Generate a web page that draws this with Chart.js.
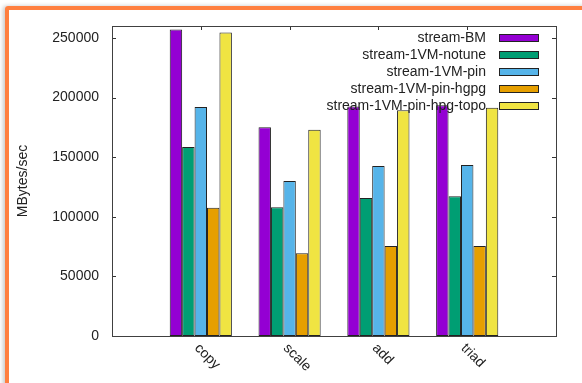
<!DOCTYPE html>
<html>
<head>
<meta charset="utf-8">
<script src="https://cdn.jsdelivr.net/npm/chart.js@4/dist/chart.umd.min.js"></script>
<style>
  body { margin: 0; background: #fff; overflow: hidden; }
  .frame {
    position: absolute; left: 5px; top: 6px; width: 620px; height: 373px;
    border: 4px solid #ff7f3f; border-top-left-radius: 3px;
    box-shadow: -2px 0 4px rgba(0,0,0,0.22);
  }
  #js--chartStream { position: absolute; left: 0; top: 0; }
</style>
</head>
<body>
<div class="frame"></div>
<canvas id="js--chartStream" width="582" height="383"></canvas>
<script>
const categories = ['copy', 'scale', 'add', 'triad'];

const seriesNames = [
    'stream-BM',
    'stream-1VM-notune',
    'stream-1VM-pin',
    'stream-1VM-pin-hgpg',
    'stream-1VM-pin-hpg-topo'
];

const streamBM = [257000, 175000, 192500, 193500];
const notune = [158500, 108000, 115800, 117200];
const pin = [192000, 130000, 142600, 143500];
const pinHgpg = [107500, 69500, 75400, 75400];
const pinHpgTopo = [254600, 173000, 189300, 191500];

const yTicks = [0, 50000, 100000, 150000, 200000, 250000];

const colors = ['#9400d3', '#009e73', '#56b4e9', '#e69f00', '#f0e442'];
const textColor = '#222';
const font = 'Liberation Sans, Arial, sans-serif';

// empty slot left and right, like gnuplot does
const labels = [''].concat(categories, ['']);
const pad = arr => [null].concat(arr, [null]);

const allSeries = [streamBM, notune, pin, pinHgpg, pinHpgTopo];

const data = {
    labels: labels,
    datasets: allSeries.map((vals, i) => ({
        label: seriesNames[i],
        data: pad(vals),
        backgroundColor: colors[i],
        borderColor: '#222',
        borderWidth: 1,
        borderSkipped: false,
        categoryPercentage: 0.7,
        barPercentage: 1.0
    }))
};

// frame, inward tics, rotated x labels and the key
const gnuplotLook = {
    id: 'gnuplotLook',
    afterDatasetsDraw(chart) {
        const ctx = chart.ctx;
        const a = chart.chartArea;
        const x = chart.scales.x;
        const y = chart.scales.y;
        ctx.save();
        ctx.strokeStyle = '#333';
        ctx.lineWidth = 1;
        ctx.beginPath();
        yTicks.forEach(v => {
            const py = Math.round(y.getPixelForValue(v)) + 0.5;
            ctx.moveTo(a.left, py); ctx.lineTo(a.left + 4, py);
            ctx.moveTo(a.right, py); ctx.lineTo(a.right - 4, py);
        });
        categories.forEach((c, i) => {
            const px = Math.round(x.getPixelForValue(i + 1)) + 0.5;
            ctx.moveTo(px, a.top); ctx.lineTo(px, a.top + 4);
        });
        ctx.stroke();
        ctx.strokeStyle = '#404040';
        ctx.strokeRect(Math.round(a.left) + 0.5, Math.round(a.top) + 0.5,
            Math.round(a.right - a.left), Math.round(a.bottom - a.top));

        ctx.fillStyle = textColor;
        ctx.font = '14px ' + font;
        categories.forEach((c, i) => {
            const px = x.getPixelForValue(i + 1);
            ctx.save();
            ctx.translate(px - 4, a.bottom + 10);
            ctx.rotate(Math.PI / 4);
            ctx.textAlign = 'left';
            ctx.textBaseline = 'middle';
            ctx.fillText(c, 0, 0);
            ctx.restore();
        });

        // key
        ctx.textAlign = 'right';
        ctx.textBaseline = 'middle';
        seriesNames.forEach((name, i) => {
            const ry = 38 + i * 17.1;
            ctx.fillStyle = textColor;
            ctx.fillText(name, 486, ry);
            ctx.fillStyle = colors[i];
            ctx.fillRect(499, Math.round(ry - 4), 40, 8);
            ctx.strokeStyle = '#222';
            ctx.strokeRect(499.5, Math.round(ry - 4) + 0.5, 39, 7);
        });
        ctx.restore();
    }
};

const config = {
    type: 'bar',
    data: data,
    options: {
        responsive: false,
        animation: false,
        layout: { padding: { left: 0, right: 26, top: 26, bottom: 0 } },
        plugins: {
            legend: { display: false },
            tooltip: { enabled: false }
        },
        scales: {
            x: {
                offset: false,
                grid: { display: false },
                border: { display: false },
                ticks: { display: false },
                afterFit(scale) { scale.height = 47; }
            },
            y: {
                min: 0,
                max: 260000,
                grid: { display: false, drawTicks: false },
                border: { display: false },
                afterBuildTicks(scale) { scale.ticks = yTicks.map(v => ({ value: v })); },
                afterFit(scale) { scale.width = 112; },
                ticks: {
                    padding: 13,
                    color: textColor,
                    font: { family: font, size: 14 },
                    callback: v => String(v)
                },
                title: {
                    display: true,
                    text: 'MBytes/sec',
                    color: textColor,
                    font: { family: font, size: 14 },
                    padding: { top: 15, bottom: 0 }
                }
            }
        }
    },
    plugins: [gnuplotLook]
};

const chartStream = new Chart(document.getElementById('js--chartStream'), config);
</script>
</body>
</html>
